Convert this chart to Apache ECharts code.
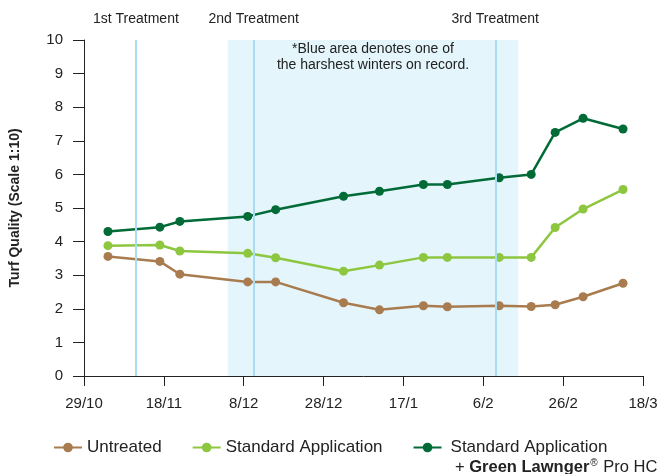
<!DOCTYPE html>
<html>
<head>
<meta charset="utf-8">
<script src="https://cdn.jsdelivr.net/npm/echarts@6/dist/echarts.min.js"></script>
<style>
  html, body { margin: 0; padding: 0; background: #fff; }
</style>
</head>
<body>
<div id="main" style="width: 663px;height: 474px"></div>
<script type="text/javascript">
    // x = days after 29/10
    var tickLabels = ['29/10', '18/11', '8/12', '28/12', '17/1', '6/2', '26/2', '18/3'];
    var days = [6, 19, 24, 41, 48, 65, 74, 85, 91, 104, 112, 118, 125, 135];
    var untreated = [3.56, 3.41, 3.03, 2.8, 2.8, 2.18, 1.97, 2.09, 2.06, 2.09, 2.07, 2.12, 2.36, 2.76];
    var standard = [3.88, 3.9, 3.72, 3.65, 3.52, 3.12, 3.3, 3.53, 3.53, 3.53, 3.53, 4.42, 4.97, 5.55];
    var lawnger = [4.3, 4.43, 4.6, 4.75, 4.95, 5.35, 5.5, 5.7, 5.7, 5.9, 6.0, 7.25, 7.67, 7.35];
    var treatments = [
        { name: '1st Treatment', day: 13 },
        { name: '2nd Treatment', day: 42.5 },
        { name: '3rd Treatment', day: 103 }
    ];
    var winter = [36, 108.75];
    var names = ['Untreated', 'Standard Application', 'Standard Application + Green Lawnger® Pro HC'];
    var colors = ['#a97c50', '#8dc63f', '#006b37'];

    function pairs(vals) {
        return days.map(function (d, i) { return [d, vals[i]]; });
    }

    var myChart = echarts.init(document.getElementById('main'));
    var font = 'Liberation Sans, Arial, Helvetica, sans-serif';

    var lines = treatments.map(function (t) {
        return {
            xAxis: t.day,
            lineStyle: { color: '#a8dcf2', width: 2, type: 'solid' },
            label: { show: true, position: 'end', formatter: t.name, distance: 14,
                     color: '#222', fontSize: 14, fontFamily: font }
        };
    });
    // dashed reference line at 5
    lines.push([
        { coord: [0, 5], symbol: 'none', lineStyle: { color: '#777', width: 1, type: [9, 6] }, label: { show: false } },
        { coord: [142.5, 5], symbol: 'none' }
    ]);

    var series = [{
        type: 'line',
        data: [],
        clip: false,
        silent: true,
        markArea: {
            silent: true,
            itemStyle: { color: '#e4f5fc' },
            label: {
                show: true, position: 'insideTop', distance: 1,
                color: '#222', fontSize: 14, lineHeight: 16, fontFamily: font,
                formatter: '*Blue area denotes one of\nthe harshest winters on record.'
            },
            data: [[{ xAxis: winter[0], yAxis: 10 }, { xAxis: winter[1], yAxis: 0 }]]
        },
        markLine: {
            silent: true,
            symbol: 'none',
            animation: false,
            data: lines
        }
    }];
    [untreated, standard, lawnger].forEach(function (vals, i) {
        series.push({
            name: names[i],
            type: 'line',
            data: pairs(vals),
            symbol: 'circle',
            symbolSize: 9,
            color: colors[i],
            lineStyle: { width: 2.5, color: colors[i] },
            itemStyle: { color: colors[i] },
            z: 3
        });
    });

    var option = {
        animation: false,
        grid: { left: 84, right: 20, top: 40, bottom: 98 },
        xAxis: {
            type: 'value', min: 0, max: 140, interval: 20,
            axisLine: { lineStyle: { color: '#222', width: 1 } },
            axisTick: { show: true, length: 10, lineStyle: { color: '#222' } },
            splitLine: { show: false },
            axisLabel: {
                color: '#222', fontSize: 15, fontFamily: font, margin: 20,
                formatter: function (v) { return tickLabels[Math.round(v / 20)]; }
            }
        },
        yAxis: {
            type: 'value', min: 0, max: 10, interval: 1,
            name: 'Turf Quality (Scale 1:10)',
            nameLocation: 'middle', nameGap: 62,
            nameTextStyle: { color: '#222', fontSize: 14, fontWeight: 'bold', fontFamily: font },
            axisLine: { show: true, lineStyle: { color: '#222', width: 1 } },
            axisTick: { show: true, length: 11, lineStyle: { color: '#222' } },
            splitLine: { show: false },
            axisLabel: { color: '#222', fontSize: 15, fontFamily: font, margin: 21 }
        },
        legend: {
            data: [
                { name: names[0] },
                { name: names[1], textStyle: { padding: [0, 3, 0, 0] } },
                { name: names[2], textStyle: { padding: [0, 0, 0, 4] } }
            ],
            left: 48, top: 434,
            itemWidth: 28, itemHeight: 12, itemGap: 30,
            textStyle: { color: '#222', fontSize: 17, fontFamily: font },
            formatter: function (n) { return n.split(' + ')[0]; }
        },
        graphic: [{
            type: 'text',
            left: 455, top: 458,
            style: {
                text: '+ {b|Green Lawnger}{sup|®} Pro HC',
                fill: '#222', fontSize: 16.5, fontFamily: font,
                rich: {
                    b: { fontSize: 16.5, fontWeight: 'bold', fontFamily: font, fill: '#222' },
                    sup: { fontSize: 10, fontFamily: font, fill: '#222', padding: [0, 1, 8, 1] }
                }
            }
        }],
        series: series
    };

    myChart.setOption(option);
</script>
</body>
</html>
